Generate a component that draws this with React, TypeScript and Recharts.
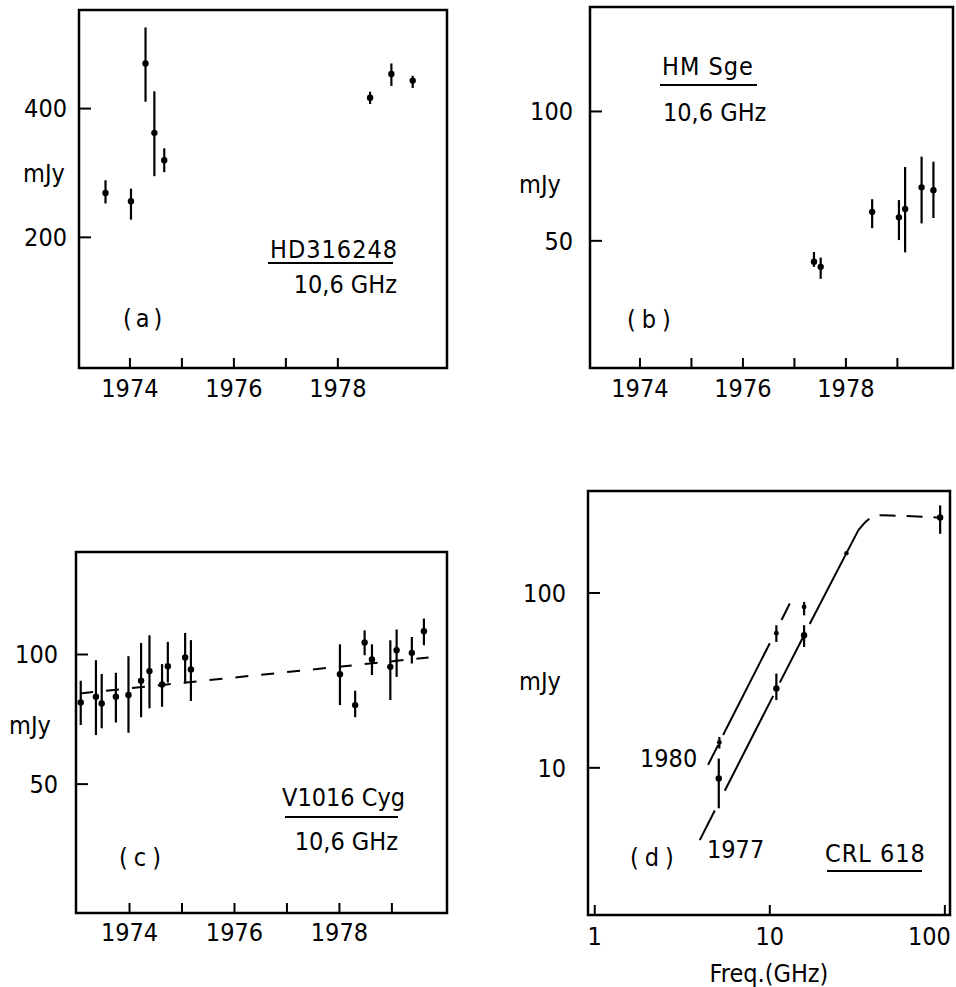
import React from 'react';
import { ErrorBar, ReferenceArea, Scatter, ScatterChart, XAxis, YAxis } from 'recharts';

const FONT = "'Liberation Sans Narrow', 'DejaVu Sans Condensed', 'Liberation Sans', sans-serif";

// (a) HD316248, 10.6 GHz
const hdYear = [1973.53, 1974.02, 1974.3, 1974.47, 1974.66, 1978.62, 1979.03, 1979.44];
const hdFlux = [254, 243, 510, 351, 303, 424, 482, 465];
const hdLow = [240, 220, 415, 278, 284, 410, 452, 447];
const hdHigh = [272, 260, 619, 439, 323, 438, 510, 477];

// (b) HM Sge, 10.6 GHz
const hmYear = [1977.38, 1977.51, 1978.51, 1979.03, 1979.15, 1979.47, 1979.7];
const hmFlux = [44.7, 43.5, 58.4, 56.7, 59.3, 66.6, 65.6];
const hmLow = [43.5, 40.8, 53.5, 50.2, 47.0, 54.9, 56.5];
const hmHigh = [47.1, 45.7, 62.5, 62.2, 74.3, 78.5, 76.4];

// (c) V1016 Cyg, 10.6 GHz
const cygYear = [1973.07, 1973.36, 1973.47, 1973.74, 1973.98, 1974.22, 1974.38, 1974.62, 1974.73, 1975.06, 1975.17, 1978.01, 1978.3, 1978.48, 1978.62, 1978.97, 1979.09, 1979.38, 1979.61];
const cygFlux = [77.4, 79.8, 77.0, 79.8, 80.5, 86.9, 91.5, 85.2, 93.9, 98.4, 92.3, 90.0, 76.3, 106.6, 97.4, 93.6, 102.3, 100.9, 113.2];
const cygLow = [68.6, 65.0, 67.4, 69.5, 65.8, 71.5, 75.0, 75.6, 86.1, 85.7, 78.0, 76.3, 71.5, 99.6, 89.6, 78.4, 88.7, 95.3, 105.1];
const cygHigh = [86.9, 97.0, 90.1, 90.7, 99.1, 106.4, 110.8, 95.0, 107.0, 112.2, 108.0, 105.6, 82.4, 113.8, 105.6, 107.9, 114.3, 109.8, 121.2];
const cygFitYear = [1973.06, 1979.7];
const cygFitFlux = [81.2, 98.4];

// (d) CRL 618 spectrum
const crl1977Freq = [5.11, 10.9, 15.7];
const crl1977Flux = [8.7, 28.4, 57.3];
const crl1977Low = [5.87, 24.4, 49.1];
const crl1977High = [11.3, 34.6, 65.4];
const crl1980Freq = [5.15, 10.9, 15.7];
const crl1980Flux = [14.0, 58.9, 83.2];
const crl1980Low = [12.9, 52.5, 74.5];
const crl1980High = [15.0, 65.4, 88.8];
const crlMmFreq = [94];
const crlMmFlux = [270];
const crlMmLow = [218];
const crlMmHigh = [317];
const crlMarkFreq = [27.4];
const crlMarkFlux = [169];
const line1977Freq = [[3.98, 4.85], [5.53, 10.45], [11.4, 15.85], [16.9, 32]];
const line1977Flux = [[3.86, 5.7], [7.4, 25.8], [30.7, 58.5], [66.5, 228]];
const turnFreq = [32, 36, 42.5, 57.5, 94];
const turnFlux = [228, 260, 278, 276, 270];
const line1980Freq = [[4.44, 5.07], [5.41, 10.0], [11.67, 13.0]];
const line1980Flux = [[10.4, 13.5], [15.4, 51.6], [70, 87]];

const yearTicksA = [1974, 1975, 1976, 1977, 1978];
const yearTicks = [1974, 1975, 1976, 1977, 1978, 1979];
const freqTicks = [1, 10, 100];

function rows(x: number[], y: number[], lo?: number[], hi?: number[]) {
  return x.map((v, i) => ({
    x: v,
    y: y[i],
    err: lo && hi ? [y[i] - lo[i], hi[i] - y[i]] : [0, 0],
  }));
}

const dot = (r: number) => (p: any) => <circle cx={p.cx} cy={p.cy} r={r} fill="#000" />;
const none = () => <g />;
const evenYear = (v: number) => (v % 2 === 0 ? String(v) : '');
const tickStyle = { fill: '#000', fontSize: 25, fontFamily: FONT };

// frequency labels: keep "100" inside the page edge
const freqTick = (p: any) => {
  const last = p.payload.value === 100;
  return (
    <text
      x={p.x + (last ? 6 : 0)}
      y={p.y}
      dy="0.71em"
      textAnchor={last ? 'end' : 'middle'}
      fill="#000"
      fontSize={25}
      fontFamily={FONT}
    >
      {p.payload.value}
    </text>
  );
};

function points(key: string, data: any[], r = 3.2) {
  return (
    <Scatter key={key} data={data} dataKey="y" shape={dot(r)} isAnimationActive={false}>
      <ErrorBar dataKey="err" direction="y" width={0} stroke="#000" strokeWidth={2.2} isAnimationActive={false} />
    </Scatter>
  );
}

function curve(key: string, data: any[], dash?: string, smooth = false) {
  return (
    <Scatter
      key={key}
      data={data}
      dataKey="y"
      shape={none}
      line={{ stroke: '#000', strokeWidth: 2, strokeDasharray: dash }}
      lineJointType={smooth ? 'monotoneX' : 'linear'}
      isAnimationActive={false}
    />
  );
}

interface PanelProps {
  left: number;
  top: number;
  width: number;
  height: number;
  margin: { top: number; right: number; bottom: number; left: number };
  yWidth: number;
  xHeight: number;
  xDomain: [number, number];
  yDomain: [number, number];
  xTicks: number[];
  yTicks: number[];
  xLog?: boolean;
  xFmt?: (v: number) => string;
  xTick?: any;
  yTickMargin: number;
  xTickMargin: number;
  children: React.ReactNode;
}

function Panel(p: PanelProps) {
  return (
    <div style={{ position: 'absolute', left: p.left, top: p.top }}>
      <ScatterChart width={p.width} height={p.height} margin={p.margin}>
        <XAxis
          type="number"
          dataKey="x"
          scale={p.xLog ? 'log' : 'linear'}
          domain={p.xDomain}
          ticks={p.xTicks}
          allowDataOverflow
          interval={0}
          height={p.xHeight}
          axisLine={false}
          tickSize={-10}
          tickMargin={p.xTickMargin}
          tickFormatter={p.xFmt}
          tick={p.xTick || tickStyle}
          tickLine={{ stroke: '#000', strokeWidth: 2 }}
        />
        <YAxis
          type="number"
          dataKey="y"
          scale="log"
          domain={p.yDomain}
          ticks={p.yTicks}
          allowDataOverflow
          interval={0}
          width={p.yWidth}
          axisLine={false}
          tickSize={-12}
          tickMargin={p.yTickMargin}
          tick={tickStyle}
          tickLine={{ stroke: '#000', strokeWidth: 2 }}
        />
        <ReferenceArea
          x1={p.xDomain[0]}
          x2={p.xDomain[1]}
          y1={p.yDomain[0]}
          y2={p.yDomain[1]}
          fill="none"
          stroke="#000"
          strokeWidth={2.5}
          ifOverflow="visible"
        />
        {p.children}
      </ScatterChart>
    </div>
  );
}

const txt = { fontFamily: FONT, fill: '#000' } as const;

export default function App() {
  return (
    <div style={{ position: 'absolute', left: 0, top: 0, width: 956, height: 987, background: '#fff' }}>
      <Panel
        left={0}
        top={0}
        width={480}
        height={440}
        margin={{ top: 10, right: 33, bottom: 22, left: 0 }}
        yWidth={79}
        xHeight={50}
        xDomain={[1973.02, 1980.1]}
        yDomain={[99, 680]}
        xTicks={yearTicksA}
        yTicks={[200, 400]}
        xFmt={evenYear}
        yTickMargin={24}
        xTickMargin={21}
      >
        {points('hd', rows(hdYear, hdFlux, hdLow, hdHigh))}
      </Panel>

      <Panel
        left={480}
        top={0}
        width={476}
        height={440}
        margin={{ top: 7, right: 3, bottom: 22, left: 0 }}
        yWidth={110}
        xHeight={50}
        xDomain={[1973.03, 1980.08]}
        yDomain={[25.3, 175]}
        xTicks={yearTicks}
        yTicks={[50, 100]}
        xFmt={evenYear}
        yTickMargin={29}
        xTickMargin={21}
      >
        {points('hm', rows(hmYear, hmFlux, hmLow, hmHigh))}
      </Panel>

      <Panel
        left={0}
        top={470}
        width={480}
        height={517}
        margin={{ top: 82, right: 33, bottom: 24, left: 0 }}
        yWidth={76}
        xHeight={50}
        xDomain={[1972.98, 1980.05]}
        yDomain={[25.1, 173]}
        xTicks={yearTicks}
        yTicks={[50, 100]}
        xFmt={evenYear}
        yTickMargin={30}
        xTickMargin={20}
      >
        {curve('fit', rows(cygFitYear, cygFitFlux), '13 13')}
        {points('cyg', rows(cygYear, cygFlux, cygLow, cygHigh))}
      </Panel>

      <Panel
        left={480}
        top={470}
        width={476}
        height={517}
        margin={{ top: 21, right: 6, bottom: 0, left: 0 }}
        yWidth={108}
        xHeight={72}
        xDomain={[0.915, 107]}
        yDomain={[1.44, 383]}
        xTicks={freqTicks}
        yTicks={[10, 100]}
        xLog
        xTick={freqTick}
        yTickMargin={34}
        xTickMargin={22}
      >
        {line1977Freq.map((f, i) => curve('l77' + i, rows(f, line1977Flux[i])))}
        {line1980Freq.map((f, i) => curve('l80' + i, rows(f, line1980Flux[i])))}
        {curve('turn', rows(turnFreq, turnFlux), '16 11', true)}
        {points('c77', rows(crl1977Freq, crl1977Flux, crl1977Low, crl1977High))}
        {points('c80', rows(crl1980Freq, crl1980Flux, crl1980Low, crl1980High), 2.4)}
        {points('cmm', rows(crlMmFreq, crlMmFlux, crlMmLow, crlMmHigh))}
        {points('cmk', rows(crlMarkFreq, crlMarkFlux), 2.2)}
      </Panel>

      <svg width={956} height={987} style={{ position: 'absolute', left: 0, top: 0, pointerEvents: 'none' }}>
        <g style={txt} fontSize={25}>
          <text x={44} y={182} textAnchor="middle">mJy</text>
          <text x={540} y={193} textAnchor="middle">mJy</text>
          <text x={30} y={734} textAnchor="middle">mJy</text>
          <text x={540} y={690} textAnchor="middle">mJy</text>

          <text x={270} y={258} letterSpacing={1}>HD316248</text>
          <text x={397} y={293} textAnchor="end">10,6 GHz</text>
          <text x={123} y={327} letterSpacing={4}>(a)</text>

          <text x={662} y={75} letterSpacing={1}>HM Sge</text>
          <text x={663} y={121}>10,6 GHz</text>
          <text x={627} y={328} letterSpacing={6}>(b)</text>

          <text x={282} y={806}>V1016 Cyg</text>
          <text x={398} y={850} textAnchor="end">10,6 GHz</text>
          <text x={119} y={866} letterSpacing={6}>(c)</text>

          <text x={640} y={767}>1980</text>
          <text x={707} y={858}>1977</text>
          <text x={630} y={866} letterSpacing={6}>(d)</text>
          <text x={825} y={862} letterSpacing={1}>CRL 618</text>
          <text x={769} y={982} textAnchor="middle">Freq.(GHz)</text>
        </g>
        <g stroke="#000" strokeWidth={2}>
          <line x1={268} y1={263} x2={393} y2={263} />
          <line x1={660} y1={85} x2={757} y2={85} />
          <line x1={285} y1={817} x2={398} y2={817} />
          <line x1={827} y1={871} x2={922} y2={871} />
        </g>
      </svg>
    </div>
  );
}
